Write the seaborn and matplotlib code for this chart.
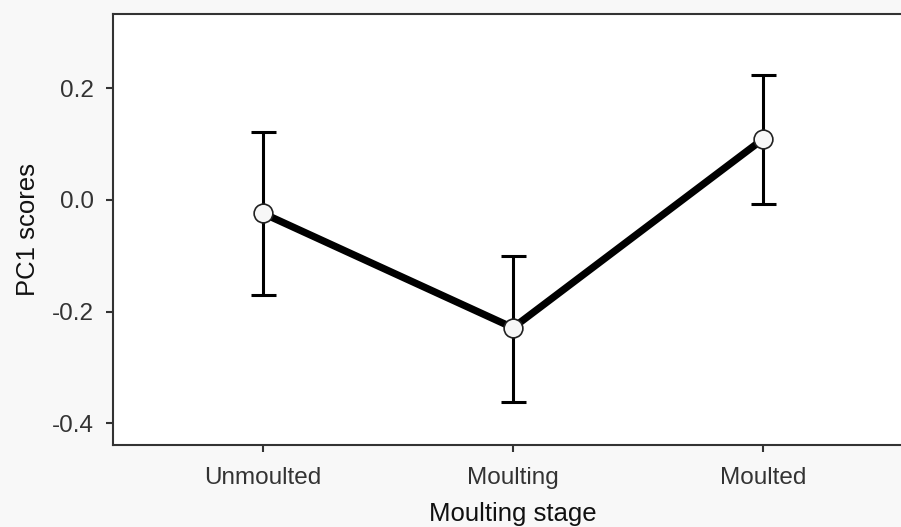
import matplotlib
matplotlib.use("Agg")
import matplotlib.pyplot as plt
import seaborn as sns
import pandas as pd
import numpy as np

stages = ["Unmoulted", "Moulting", "Moulted"]
means = [-0.024, -0.229, 0.109]
upper = [0.121, -0.100, 0.224]
lower = [-0.170, -0.362, -0.007]
yticks = [-0.4, -0.2, 0.0, 0.2]
ytick_labels = ["-0.4", "-0.2", "0.0", "0.2"]

sns.set_style("white")
plt.rcParams['font.family'] = ['Liberation Sans', 'DejaVu Sans']

fig = plt.figure(figsize=(9.01, 5.27), dpi=100, facecolor="#f8f8f8")
ax = fig.add_axes([113/901, (527-445)/527, 800/901, (445-14)/527])
ax.set_facecolor("white")

df = pd.DataFrame({"stage": stages, "mean": means, "lo": lower, "hi": upper})
pos = np.arange(len(stages))

ax.errorbar(pos, df["mean"], yerr=[df["mean"] - df["lo"], df["hi"] - df["mean"]],
            fmt="none", ecolor="black", elinewidth=2.2, capsize=9, capthick=2.2, zorder=2)
sns.lineplot(x=pos, y=df["mean"], ax=ax, color="black", linewidth=5.2, zorder=3,
             marker="o", markersize=13.5, markerfacecolor="#f7f7f7",
             markeredgecolor="#222222", markeredgewidth=1.2)

ax.set_xlim(-0.6, 2.6)
ax.set_ylim(-0.439, 0.333)
ax.set_xticks(pos)
ax.set_xticklabels(stages)
ax.set_yticks(yticks)
ax.set_yticklabels(ytick_labels)

for s in ["left", "bottom", "top"]:
    ax.spines[s].set_color("#333333")
    ax.spines[s].set_linewidth(1.5)
    ax.spines[s].set_visible(True)
ax.spines["right"].set_visible(False)

ax.tick_params(axis="both", which="major", length=5, width=1.5, color="#333333",
               labelsize=17.5, labelcolor="#333333", left=True, bottom=True)
ax.tick_params(axis="y", pad=9)
ax.tick_params(axis="x", pad=11)

ax.set_xlabel("Moulting stage", fontsize=18.5, color="#111111", labelpad=9)
ax.set_ylabel("PC1 scores", fontsize=18.5, color="#111111", labelpad=8)

fig.savefig("out.png", dpi=100, facecolor=fig.get_facecolor())
